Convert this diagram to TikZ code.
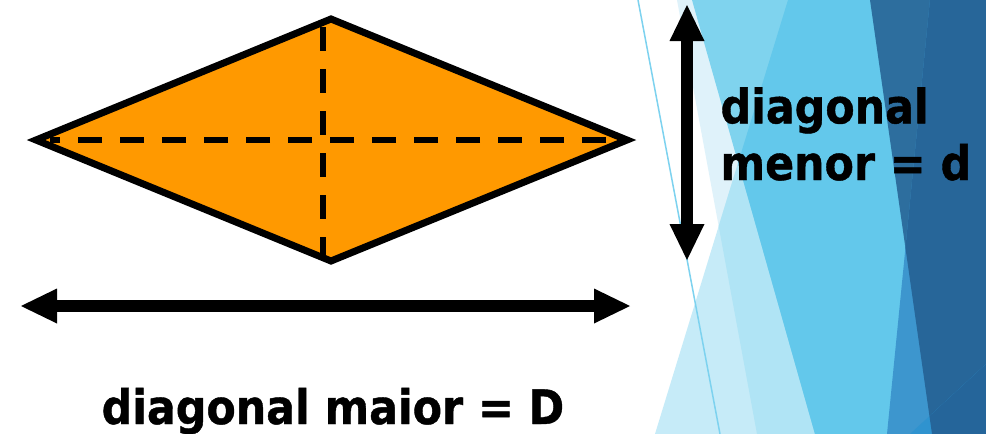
\documentclass[tikz,border=0pt]{standalone}
\usepackage{fontspec}
\setmainfont{DejaVu Sans}[BoldFeatures={FakeBold=0.9}]
\usetikzlibrary{arrows.meta}
\definecolor{cTthree}{HTML}{DFF2FA}
\definecolor{cTone}{HTML}{C6EBF8}
\definecolor{cTonethree}{HTML}{B0E4F5}
\definecolor{cTtwo}{HTML}{7FD3EE}
\definecolor{cTonetwo}{HTML}{63C8EB}
\definecolor{cDark}{HTML}{2D6E9E}
\definecolor{cTfour}{HTML}{3D96CE}
\definecolor{cTfourdark}{HTML}{276699}
\definecolor{cTfive}{HTML}{2F93CF}
\definecolor{cTfivedark}{HTML}{25659A}
\definecolor{cThin}{HTML}{7DD2EF}
\definecolor{rhombfill}{HTML}{FF9900}
\tikzset{
  pTone/.style={insert path={(788,0) -- (986,0) -- (986,434) -- (655,434) -- cycle}},
  pTtwo/.style={insert path={(692,0) -- (986,0) -- (986,434) -- (815,434) -- cycle}},
  pTthree/.style={insert path={(677,0) -- (986,0) -- (986,434) -- (757,434) -- cycle}},
  pDark/.style={insert path={(870,0) -- (986,0) -- (986,434) -- (932,434) -- cycle}},
  pTfour/.style={insert path={(930,0) -- (986,0) -- (986,434) -- (887,434) -- cycle}},
  pTfive/.style={insert path={(910,434) -- (986,364) -- (986,434) -- cycle}},
  dashline/.style={line width=5.5, dash pattern=on 24 off 18},
  rhombline/.style={line width=7, line join=miter},
  bigarrow/.style={line width=12,
    {Triangle[length=36pt,width=35pt,line width=0pt]}-{Triangle[length=36pt,width=35pt,line width=0pt]}},
  lbl/.style={inner sep=0pt, font=\fontsize{47.5}{57}\selectfont\bfseries}
}
\begin{document}
\begin{tikzpicture}[x=1pt,y=-1pt]
\useasboundingbox (0,0) rectangle (986,434);
\fill[white] (0,0) rectangle (986,434);
% background facets
\fill[cTthree, pTthree];
\fill[cTone, pTone];
\begin{scope}
  \clip[pTone];
  \fill[cTonethree, pTthree];
\end{scope}
\fill[cTtwo, pTtwo];
\begin{scope}
  \clip[pTone];
  \fill[cTonetwo, pTtwo];
\end{scope}
\fill[cDark, pDark];
\fill[cTfour, pTfour];
\begin{scope}
  \clip[pDark];
  \fill[cTfourdark, pTfour];
\end{scope}
\fill[cTfive, pTfive];
\begin{scope}
  \clip[pDark];
  \fill[cTfivedark, pTfive];
\end{scope}
\coordinate (thinA) at (638,0);
\coordinate (thinB) at (720,434);
\draw[cThin, line width=1.5] (thinA) -- (thinB);
% rhombus
\coordinate (L) at (36,140);
\coordinate (T) at (331,19);
\coordinate (R) at (627,140);
\coordinate (B) at (331,261);
\fill[rhombfill] (L) -- (T) -- (R) -- (B) -- cycle;
\coordinate (hdA) at (606,140);
\coordinate (hdB) at (50,140);
\draw[dashline] (hdA) -- (hdB);
\coordinate (vdA) at (323,27);
\coordinate (vdB) at (323,258);
\draw[dashline] (vdA) -- (vdB);
\draw[rhombline] (L) -- (T) -- (R) -- (B) -- cycle;
% arrows
\coordinate (ha) at (21,306);
\coordinate (hb) at (630,306);
\draw[bigarrow] (ha) -- (hb);
\coordinate (va) at (687,5);
\coordinate (vb) at (687,260);
\draw[bigarrow] (va) -- (vb);
% labels
\node[lbl, anchor=base west] (dmaior) at (101.5,424) {\scalebox{0.9}[1]{diagonal maior = D}};
\node[lbl, anchor=base west] (dmenorA) at (720.4,123.3) {\scalebox{0.9}[1]{diagonal}};
\node[lbl, anchor=base west] (dmenorB) at (720.4,180) {\scalebox{0.9}[1]{menor = d}};
\end{tikzpicture}
\end{document}
